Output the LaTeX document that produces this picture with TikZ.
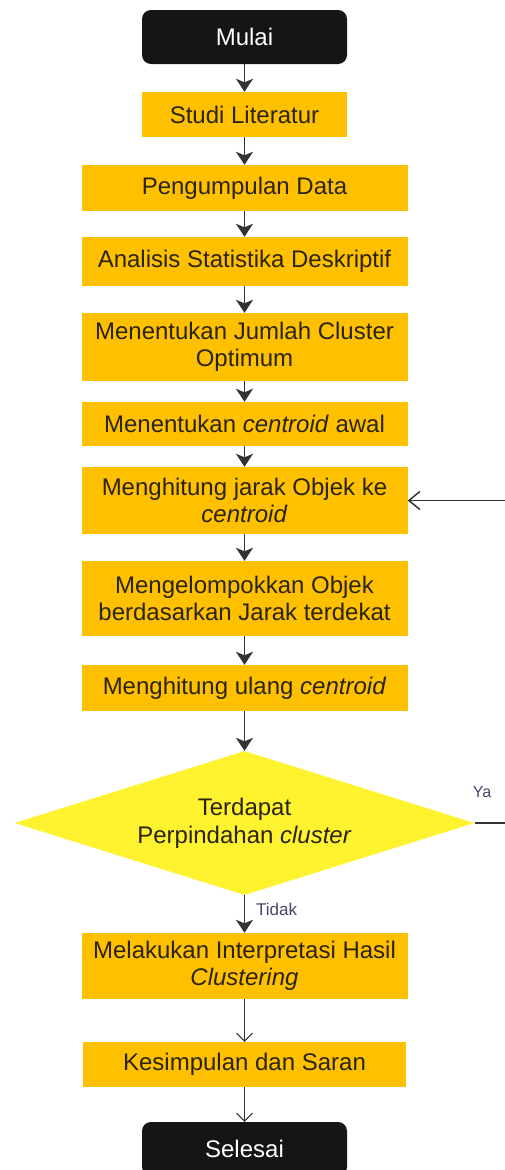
\documentclass[tikz,border=0pt]{standalone}
\usepackage{fontspec}
\setmainfont{Liberation Sans}
\usetikzlibrary{arrows.meta}
\usetikzlibrary{shapes.geometric}
\definecolor{emas}{HTML}{FFC000}
\definecolor{kuning}{HTML}{FFF22E}
\definecolor{hitam}{HTML}{151515}
\definecolor{garis}{HTML}{333333}
\definecolor{teks}{HTML}{2A2412}
\definecolor{label}{HTML}{45456A}
\tikzset{proses/.style = {fill=emas, text=teks, minimum width=326pt, align=center,
                          inner sep=0, font=\fontsize{24}{27.5}\selectfont}}
\tikzset{terminal/.style = {fill=hitam, text=white, rounded corners=9pt, minimum width=205pt,
                            minimum height=54pt, font=\fontsize{24}{27.5}\selectfont}}
\tikzset{keputusan/.style = {diamond, fill=kuning, aspect=3.2, minimum width=460pt,
                             minimum height=144pt, inner sep=0, align=center, text=teks,
                             font=\fontsize{24}{28}\selectfont}}
\tikzset{panah/.style = {draw=garis, line width=1.7pt, -{Stealth[length=13pt, width=17pt, inset=3.5pt]}}}
\tikzset{panahtipis/.style = {draw=garis, line width=1pt, -{Straight Barb[length=8pt, width=16pt]}}}
\tikzset{ket/.style = {text=label, inner sep=0}}

\begin{document}
\begin{tikzpicture}[x=1pt, y=-1pt]
    \useasboundingbox (0, 0) rectangle (504, 1170);
    \node [terminal] (mulai) at (244.5, 37) {Mulai};
    \node [proses, minimum width=205pt, minimum height=45pt] (studi) at (244.5, 114.5) {Studi Literatur};
    \node [proses, minimum height=46pt] (data) at (244.5, 188) {Pengumpulan Data};
    \node [proses, minimum height=49pt] (analisis) at (244.5, 261.5) {Analisis Statistika Deskriptif};
    \node [proses, minimum height=68pt] (jumlah) at (244.5, 347) {Menentukan Jumlah Cluster\\Optimum};
    \node [proses, minimum height=44pt] (awal) at (244.5, 424) {Menentukan \textit{centroid} awal};
    \node [proses, minimum height=67pt] (jarak) at (244.5, 500.5) {Menghitung jarak Objek ke\\\textit{centroid}};
    \node [proses, minimum height=75pt] (kelompok) at (244.5, 598.5) {Mengelompokkan Objek\\berdasarkan Jarak terdekat};
    \node [proses, minimum height=46pt] (ulang) at (244.5, 688) {Menghitung ulang \textit{centroid}};
    \node [keputusan] (pindah) at (244.5, 823) {Terdapat\\Perpindahan \textit{cluster}};
    \node [proses, minimum height=66pt] (hasil) at (244.5, 966) {Melakukan Interpretasi Hasil\\\textit{Clustering}};
    \node [proses, minimum width=323pt, minimum height=45pt] (saran) at (244.5, 1064.5) {Kesimpulan dan Saran};
    \node [terminal] (selesai) at (244.5, 1149) {Selesai};

    \foreach \a/\b in {mulai/studi, studi/data, data/analisis, analisis/jumlah, jumlah/awal,
                       awal/jarak, jarak/kelompok, kelompok/ulang, ulang/pindah, pindah/hasil} {
      \draw [panah] (\a) -- (\b);
    }
    \node [ket, font=\fontsize{17}{20}\selectfont, anchor=west] (tidak) at (256, 909) {Tidak};

    \coordinate (balik) at (530, 823);
    \draw [draw=garis, line width=1.5pt, -{Straight Barb[length=11pt, width=18pt]}]
      (pindah.east) -- (balik) |- (jarak.east);
    \node [ket, font=\fontsize{16}{19}\selectfont] (ya) at (482, 792) {Ya};

    \draw [panahtipis] (hasil) -- (saran);
    \draw [panahtipis] (saran) -- (selesai);
  \end{tikzpicture}
\end{document}
